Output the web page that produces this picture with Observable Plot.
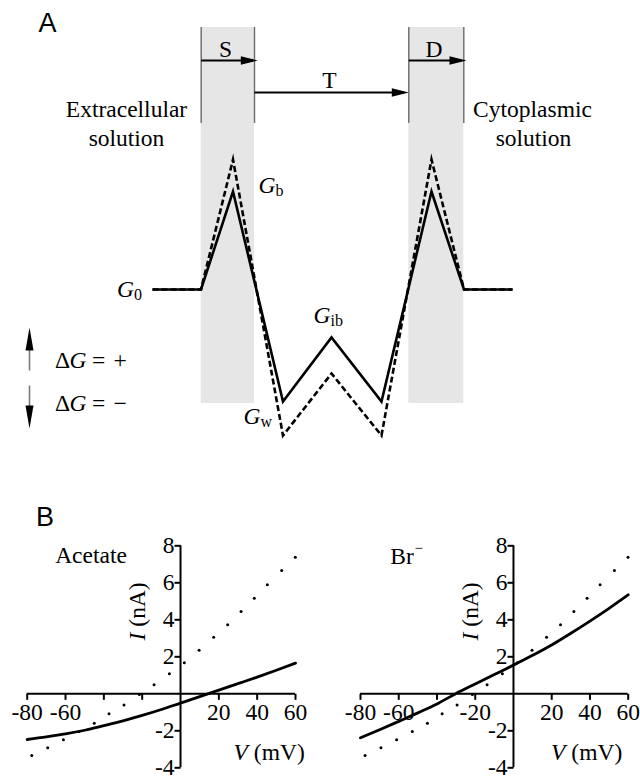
<!DOCTYPE html>
<html><head><meta charset="utf-8">
<script src="https://cdn.jsdelivr.net/npm/d3@7"></script>
<script src="https://cdn.jsdelivr.net/npm/@observablehq/plot@0.6"></script>
<style>
html,body{margin:0;padding:0;background:#fff;}
#fig{position:relative;width:640px;height:778px;overflow:hidden;background:#fff;}
#a{position:absolute;left:0;top:0;}
#b1{position:absolute;left:0;top:480px;}
#b2{position:absolute;left:320px;top:480px;}
svg{overflow:visible;}
</style></head><body>
<div id="fig"><div id="a"></div><div id="b1"></div><div id="b2"></div></div>
<script>
// ---------------- Panel A: schematic free-energy profile ----------------
const profileX      = [3.04, 4.01, 4.65, 5.65, 6.62, 7.62, 8.62, 9.27, 10.24];
const profileSolid  = [0, 0, 4.9, -5.6, -2.4, -5.6, 4.9, 0, 0];
const profileDashed = [0, 0, 6.5, -7.3, -4.2, -7.3, 6.5, 0, 0];
const siteNames = ["S", "D"];
const siteStart = [4.014, 8.166];
const siteEnd   = [5.08, 9.266];
const arrowFrom  = [4.014, 5.08, 8.166];
const arrowTo    = [5.146, 8.166, 9.32];
const arrowLevel = [11.45, 9.85, 11.45];
const gLabels = ["0", "b", "ib", "w"];
const gLabelX = [2.67, 5.5, 6.6, 5.2];
const gLabelY = [0, 5.2, -1.3, -6.35];
const dgSigns = ["+", "\u2212"];
const dgLevels = [-3.55, -5.7];

// ---------------- Panel B: I–V relations ----------------
const curveV   = [-80, -70, -60, -50, -40, -30, -20, -10, 0, 10, 20, 30, 40, 50, 60];
const acetateI = [-2.47, -2.33, -2.17, -1.97, -1.72, -1.46, -1.17, -0.85, -0.5, -0.15, 0.2, 0.55, 0.9, 1.27, 1.66];
const bromideI = [-2.38, -1.94, -1.49, -1.03, -0.55, 0.02, 0.53, 1.04, 1.55, 2.08, 2.64, 3.27, 3.93, 4.62, 5.35];
const refV = [-77.6, -69.3, -61.1, -52.9, -45.0, -37.3, -29.5, -21.5, -13.8, -5.8, 2.0, 9.7, 17.3, 24.6, 31.6, 38.5, 45.3, 52.8, 59.9];
const refI = [-3.34, -2.92, -2.49, -2.04, -1.59, -1.08, -0.60, -0.04, 0.49, 1.08, 1.68, 2.36, 3.06, 3.73, 4.45, 5.17, 5.89, 6.66, 7.38];
const tickV = [-80, -60, -40, -20, 20, 40, 60];
const tickI = [-4, -2, 2, 4, 6, 8];
const acetateTickLabels = ["-80", "-60", "20", "40", "60"];
const bromideTickLabels = ["-80", "-60", "-20", "20", "40", "60"];
const yTickLabels = ["-4", "-2", "2", "4", "6", "8"];

// ---------------- styling helpers ----------------
const serif = "'Liberation Serif', 'Times New Roman', serif";
const sans = "'Liberation Sans', Arial, sans-serif";
const FS = 23.5;
const headRight = {draw(c){ c.moveTo(0,0); c.lineTo(-17,-4.2); c.lineTo(-17,4.2); c.closePath(); }};
const headUp    = {draw(c){ c.moveTo(0,0); c.lineTo(-4,23); c.lineTo(4,23); c.closePath(); }};
const headDown  = {draw(c){ c.moveTo(0,0); c.lineTo(-4,-23); c.lineTo(4,-23); c.closePath(); }};
const tickDown  = {draw(c){ c.moveTo(0,0); c.lineTo(0,6); }};
const tickLeft  = {draw(c){ c.moveTo(0,0); c.lineTo(-6,0); }};

const solid = profileX.map((x, k) => ({x, g: profileSolid[k]}));
const dashed = profileX.map((x, k) => ({x, g: profileDashed[k]}));
const sites = siteNames.map((n, k) => ({n, x1: siteStart[k], x2: siteEnd[k]}));
const arrows = arrowFrom.map((x1, k) => ({x1, x2: arrowTo[k], y: arrowLevel[k]}));
const gl = gLabels.map((s, k) => ({s, x: gLabelX[k], y: gLabelY[k]}));
const dg = dgSigns.map((s, k) => ({s, y: dgLevels[k]}));
const edges = siteStart.concat(siteEnd);

const panelA = Plot.plot({
  width: 640, height: 480, margin: 0,
  x: {domain: [0, 12.8], axis: null},
  y: {domain: [-9.55, 14.45], axis: null},
  style: {background: "white", overflow: "visible", fontFamily: serif},
  marks: [
    Plot.rect(sites, {x1: "x1", x2: "x2", y1: -5.7, y2: 13.1, fill: "#e6e6e6"}),
    Plot.ruleX(edges, {x: d => d, y1: 8.3, y2: 13.1, stroke: "#6a6a6a", strokeWidth: 1.4}),
    Plot.line(dashed, {x: "x", y: "g", stroke: "black", strokeWidth: 2.6, strokeDasharray: "6,3", strokeLinejoin: "miter", strokeLinecap: "butt", strokeMiterlimit: 10}),
    Plot.line(solid, {x: "x", y: "g", stroke: "black", strokeWidth: 2.6, strokeLinejoin: "miter", strokeLinecap: "butt", strokeMiterlimit: 10}),
    Plot.link(arrows, {x1: "x1", x2: d => d.x2 - 0.1, y1: "y", y2: "y", stroke: "black", strokeWidth: 2}),
    Plot.dot(arrows, {x: "x2", y: "y", symbol: headRight, fill: "black", stroke: "none"}),
    // ΔG direction arrows
    Plot.link([0], {x1: 0.58, x2: 0.58, y1: -4.05, y2: -2.3, stroke: "#7a7a7a", strokeWidth: 1.6}),
    Plot.link([0], {x1: 0.58, x2: 0.58, y1: -4.8, y2: -6.6, stroke: "#7a7a7a", strokeWidth: 1.6}),
    Plot.dot([0], {x: 0.58, y: -1.9, symbol: headUp, fill: "black", stroke: "none"}),
    Plot.dot([0], {x: 0.58, y: -6.95, symbol: headDown, fill: "black", stroke: "none"}),
    Plot.text(dg, {x: 1.09, y: "y", text: () => "Δ", textAnchor: "start", fontSize: FS, fontFamily: serif}),
    Plot.text(dg, {x: 1.38, y: "y", text: () => "G", textAnchor: "start", fontSize: FS, fontFamily: serif, fontStyle: "italic"}),
    Plot.text(dg, {x: 1.83, y: "y", text: () => "=", textAnchor: "start", fontSize: FS, fontFamily: serif}),
    Plot.text(dg, {x: 2.26, y: "y", text: "s", textAnchor: "start", fontSize: FS, fontFamily: serif}),
    // site labels
    Plot.text(["S", "D", "T"], {x: (d, k) => [4.5, 8.67, 6.58][k], y: (d, k) => [12.0, 12.0, 10.45][k], text: d => d, fontSize: FS, fontFamily: serif}),
    Plot.text(["Extracellular", "solution", "Cytoplasmic", "solution"], {
      x: (d, k) => [2.52, 2.52, 10.64, 10.66][k], y: (d, k) => [9.0, 7.57, 9.0, 7.57][k],
      text: d => d, fontSize: FS, fontFamily: serif}),
    // G labels
    Plot.text(gl, {x: "x", y: "y", text: () => "G", textAnchor: "end", fontSize: FS, fontFamily: serif, fontStyle: "italic"}),
    Plot.text(gl, {x: "x", y: "y", text: "s", textAnchor: "start", dy: 5, fontSize: 16, fontFamily: serif}),
    Plot.text(["A"], {x: 0.94, y: 13.3, text: d => d, fontSize: 27, fontFamily: sans})
  ]
});
document.getElementById("a").appendChild(panelA);

function ivPanel(o) {
  const curve = curveV.map((v, k) => ({v, i: o.current[k]}));
  const ref = refV.map((v, k) => ({v, i: refI[k]}));
  return Plot.plot({
    width: 320, height: 298,
    marginLeft: o.ml, marginRight: o.mr, marginTop: 65.3, marginBottom: 10.7,
    x: {domain: [-80, 60], axis: null},
    y: {domain: [-4, 8], axis: null},
    style: {background: "white", overflow: "visible", fontFamily: serif},
    marks: [
      Plot.ruleY([0], {x1: -80, x2: 60, stroke: "black", strokeWidth: 2}),
      Plot.ruleX([0], {y1: -4, y2: 8, stroke: "black", strokeWidth: 2}),
      Plot.dot(tickV, {x: d => d, y: 0, symbol: tickDown, stroke: "black", strokeWidth: 2, fill: "none"}),
      Plot.dot(tickI, {x: 0, y: d => d, symbol: tickLeft, stroke: "black", strokeWidth: 2, fill: "none"}),
      Plot.text(o.xLabels, {x: d => +d, y: 0, dy: 19, text: d => d, fontSize: FS, fontFamily: serif}),
      Plot.text(yTickLabels, {x: 0, y: d => +d, dx: -6, textAnchor: "end", text: d => d, fontSize: FS, fontFamily: serif}),
      Plot.dot(ref, {x: "v", y: "i", r: 1.5, fill: "black"}),
      Plot.line(curve, {x: "v", y: "i", stroke: "black", strokeWidth: 2.8, curve: "monotone-x"}),
      Plot.text(["I"], {x: o.iX, y: 3.31, rotate: -90, textAnchor: "end", text: d => d, fontSize: FS, fontFamily: serif, fontStyle: "italic"}),
      Plot.text(["\u00A0(nA)"], {x: o.iX, y: 3.31, rotate: -90, textAnchor: "start", text: d => d, fontSize: FS, fontFamily: serif}),
      Plot.text(["V"], {x: o.vX, y: -3.17, textAnchor: "end", text: d => d, fontSize: FS, fontFamily: serif, fontStyle: "italic"}),
      Plot.text(["\u00A0(mV)"], {x: o.vX, y: -3.17, textAnchor: "start", text: d => d, fontSize: FS, fontFamily: serif}),
      ...o.extra
    ]
  });
}

const left = ivPanel({
  current: acetateI, xLabels: acetateTickLabels, ml: 26.7, mr: 25, iX: -22.7, vX: 35.2,
  extra: [
    Plot.text(["Acetate"], {x: -46.7, y: 7.48, text: d => d, fontSize: FS, fontFamily: serif}),
    Plot.text(["B"], {x: -70.7, y: 9.53, text: d => d, fontSize: 27, fontFamily: sans})
  ]
});
const right = ivPanel({
  current: bromideI, xLabels: bromideTickLabels, ml: 40, mr: 12.3, iX: -22.5, vX: 27.2,
  extra: [
    Plot.text(["Br"], {x: -58.3, y: 7.4, text: d => d, fontSize: FS, fontFamily: serif}),
    Plot.text(["\u2212"], {x: -51.8, y: 7.88, textAnchor: "start", text: d => d, fontSize: 15, fontFamily: serif})
  ]
});
document.getElementById("b1").appendChild(left);
document.getElementById("b2").appendChild(right);
</script>
</body></html>
